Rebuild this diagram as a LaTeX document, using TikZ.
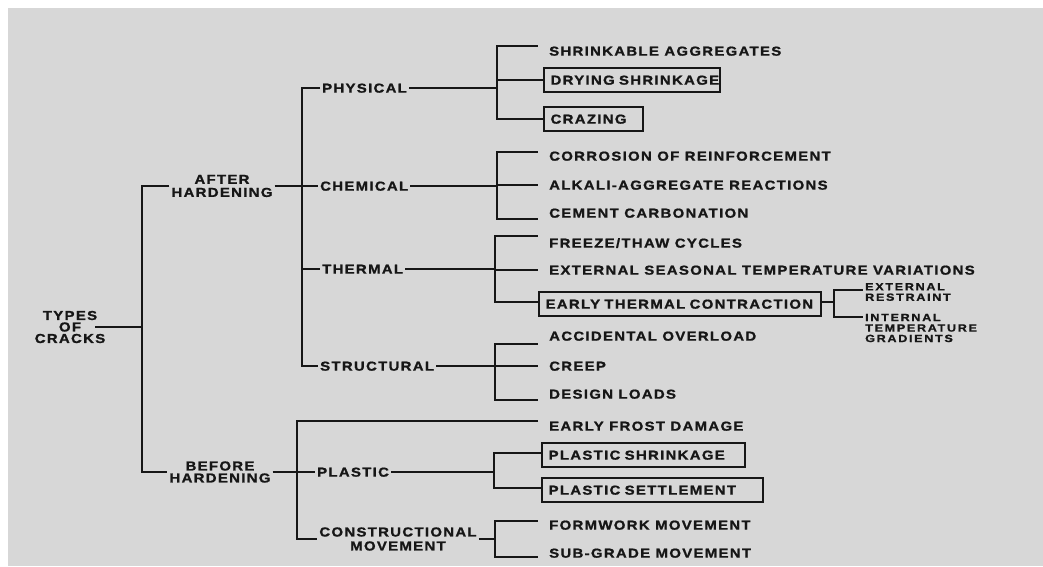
\documentclass[tikz,border=0pt]{standalone}
\usepackage{fontspec}
\newfontfamily\labfont{Liberation Sans}[FakeStretch=1.15,LetterSpace=10,FakeBold=1.2]
\newfontfamily\smlfont{Liberation Sans}[FakeStretch=1.2,LetterSpace=16,FakeBold=1.2]
\definecolor{bg}{RGB}{215,215,215}
\definecolor{ink}{RGB}{22,22,22}
\tikzset{
  lab/.style={font=\labfont\bfseries\fontsize{13}{12.5}\selectfont, text=ink, inner xsep=2pt, inner ysep=0pt},
  one/.style={lab, text height=9.3pt, text depth=0pt},
  mid/.style={one, anchor=west},
  leaf/.style={one, anchor=west, inner xsep=11pt},
  boxed/.style={one, anchor=west, draw=ink, line width=2.2pt, inner xsep=6.5pt, inner ysep=7pt, align=left},
  sml/.style={font=\smlfont\bfseries\fontsize{10.5}{10.5}\selectfont, text=ink, inner xsep=2pt, inner ysep=0pt, align=left, anchor=west},
  conn/.style={draw=ink, line width=2.3pt},
}
\begin{document}
\begin{tikzpicture}[x=1pt,y=-1pt]
\useasboundingbox (0,0) rectangle (1043,566);
\fill[white] (0,0) rectangle (1043,566);
\fill[bg] (8,8) rectangle (1043,566);

% level 0-1
\node[lab, align=center, font=\labfont\bfseries\fontsize{13}{11.5}\selectfont] (typ) at (70,327) {TYPES\\OF\\CRACKS};
\node[lab, align=center, font=\labfont\bfseries\fontsize{13}{13}\selectfont] (aft) at (222,186) {AFTER\\HARDENING};
\node[lab, align=center, font=\labfont\bfseries\fontsize{13}{12}\selectfont] (bef) at (220,472) {BEFORE\\HARDENING};

% level 2
\node[mid] (phy) at (320,88) {PHYSICAL};
\node[mid] (chm) at (318,186) {CHEMICAL};
\node[mid] (thm) at (320,269) {THERMAL};
\node[mid] (str) at (318,366) {STRUCTURAL};
\node[mid] (pla) at (315,472) {PLASTIC};
\node[lab, align=center, font=\labfont\bfseries\fontsize{13}{14}\selectfont] (con) at (398,539) {CONSTRUCTIONAL\\MOVEMENT};

% level 3
\node[leaf] (s1) at (538,51) {SHRINKABLE AGGREGATES};
\node[boxed, text width=163pt] (s2) at (543,80) {\mbox{DRYING SHRINKAGE}};
\node[boxed, text width=86pt] (s3) at (543,119) {\mbox{CRAZING}};
\node[leaf] (c1) at (538,156) {CORROSION OF REINFORCEMENT};
\node[leaf] (c2) at (538,185) {ALKALI-AGGREGATE REACTIONS};
\node[leaf] (c3) at (538,213) {CEMENT CARBONATION};
\node[leaf] (t1) at (538,243) {FREEZE/THAW CYCLES};
\node[leaf] (t2) at (538,270) {EXTERNAL SEASONAL TEMPERATURE VARIATIONS};
\node[boxed, text width=269pt] (t3) at (538,304) {\mbox{EARLY THERMAL CONTRACTION}};
\node[leaf] (r1) at (538,336) {ACCIDENTAL OVERLOAD};
\node[leaf] (r2) at (538,366) {CREEP};
\node[leaf] (r3) at (538,394) {DESIGN LOADS};
\node[leaf] (f1) at (538,426) {EARLY FROST DAMAGE};
\node[boxed, text width=190pt] (p1) at (541,455) {\mbox{PLASTIC SHRINKAGE}};
\node[boxed, text width=208pt] (p2) at (541,490) {\mbox{PLASTIC SETTLEMENT}};
\node[leaf] (m1) at (538,525) {FORMWORK MOVEMENT};
\node[leaf] (m2) at (538,553) {SUB-GRADE MOVEMENT};

% level 4
\node[sml] (e1) at (863,292) {EXTERNAL\\RESTRAINT};
\node[sml] (e2) at (863,328) {INTERNAL\\TEMPERATURE\\GRADIENTS};

% spines / joints
\coordinate (j0) at (142,327);
\coordinate (k2) at (302,0);
\coordinate (k3) at (297,0);
\coordinate (jp) at (497,88);
\coordinate (jc) at (497,186);
\coordinate (jt) at (495,269);
\coordinate (jr) at (495,366);
\coordinate (jpl) at (494,472);
\coordinate (jm) at (495,539);
\coordinate (je) at (834,302);
\coordinate (fl) at ([yshift=5pt]f1.west);

% connectors
\draw[conn] ([xshift=-12pt]typ.east) -- (j0);
\draw[conn] (aft.west) -| (j0) |- (bef.west);
\draw[conn] (aft.east) -- (chm.west);
\draw[conn] (phy.west) -- (phy.west -| k2) |- (str.west);
\draw[conn] (thm.west -| k2) -- (thm.west);

\draw[conn] (phy.east) -- (jp);
\draw[conn] (jp) |- ([yshift=5pt]s1.west);
\draw[conn] (jp) |- (s2.west);
\draw[conn] (jp) |- (s3.west);

\draw[conn] (chm.east) -- (jc);
\draw[conn] (jc) |- ([yshift=4pt]c1.west);
\draw[conn] (jc) |- (c2.west);
\draw[conn] (jc) |- ([yshift=-6pt]c3.west);

\draw[conn] (thm.east) -- (jt);
\draw[conn] (jt) |- ([yshift=7pt]t1.west);
\draw[conn] (jt) |- (t2.west);
\draw[conn] (jt) |- ([yshift=2pt]t3.west);

\draw[conn] (str.east) -- (jr);
\draw[conn] (jr) |- ([yshift=-8pt]r1.west);
\draw[conn] (jr) |- (r2.west);
\draw[conn] (jr) |- ([yshift=-6pt]r3.west);

\draw[conn] (fl) -- (fl -| k3) |- (con.west);
\draw[conn] (bef.east) -- (pla.west);
\draw[conn] (pla.east) -- (jpl);
\draw[conn] (jpl) |- ([yshift=2pt]p1.west);
\draw[conn] (jpl) |- ([yshift=2pt]p2.west);

\draw[conn] (con.east) -- (jm);
\draw[conn] (jm) |- ([yshift=4pt]m1.west);
\draw[conn] (jm) |- ([yshift=-4pt]m2.west);

\draw[conn] (je -| t3.east) -- (je);
\draw[conn] (je) |- ([yshift=2pt]e1.west);
\draw[conn] (je) |- ([yshift=11pt]e2.west);
\end{tikzpicture}
\end{document}
